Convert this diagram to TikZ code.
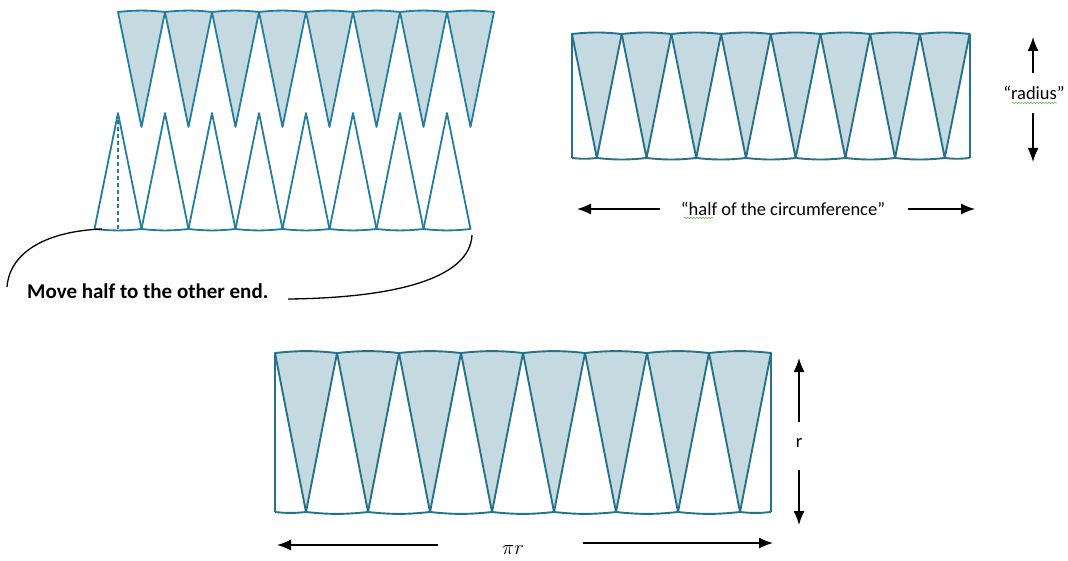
\documentclass[tikz,border=0pt]{standalone}
\usepackage{fontspec}
\setmainfont{Carlito}
\usepackage{tikz}
\usetikzlibrary{arrows.meta,positioning,decorations.pathmorphing}
\definecolor{wedgeline}{RGB}{34,126,156}
\definecolor{stripline}{RGB}{38,114,138}
\definecolor{wedgefill}{RGB}{196,218,224}
\definecolor{spellgreen}{RGB}{110,185,80}

\begin{document}
\begin{tikzpicture}[x=1pt,y=-1pt,>=Latex,
  wedge/.style={draw=wedgeline, line width=1.8pt, line join=round},
  strip/.style={draw=stripline, line width=1.9pt, line join=round},
  dimarrow/.style={->, line width=1.4pt, >={Latex[length=14pt,width=11pt]}},
  curve/.style={line width=1.3pt},
  lbl/.style={font=\fontsize{18.5}{22}\selectfont, inner sep=0pt},
  squiggle/.style={spellgreen, line width=0.6pt, decorate,
    decoration={snake, amplitude=0.8pt, segment length=3pt}}]
  \useasboundingbox (0,0) rectangle (1068,561);

  % cut circle, top row and bottom row
  \foreach \i in {0,...,7} {
    \draw[wedge, fill=wedgefill] (118+47*\i,12) to[bend left=6] ++(47,0) -- (141.5+47*\i,127) -- cycle;
    \draw[wedge] (94.5+47*\i,229) to[bend right=6] ++(47,0) -- (118+47*\i,113) -- cycle;
  }
  \draw[wedge, line width=1.5pt, dash pattern=on 4pt off 3pt] (118,113) -- (118,229);

  % the two rearranged strips
  \foreach \xo/\ww/\yt/\yb in {572/49.7/34/158, 275/62/353/512} {
    \foreach \i in {0,...,7}
      \draw[strip, fill=wedgefill] (\xo+\ww*\i,\yt) to[bend left=6] ++(\ww,0) -- (\xo+\ww*\i+\ww/2,\yb) -- cycle;
    \foreach \i in {0,...,6}
      \draw[strip] (\xo+\ww*\i+\ww/2,\yb) to[bend right=6] ++(\ww,0);
    \draw[strip] (\xo,\yb) to[bend right=6] ++(\ww/2,0);
    \draw[strip] (\xo+7.5*\ww,\yb) to[bend right=6] ++(\ww/2,0);
    \draw[strip] (\xo,\yt) -- (\xo,\yb) (\xo+8*\ww,\yt) -- (\xo+8*\ww,\yb);
  }

  % moving half
  \node[anchor=west, inner sep=0pt, font=\bfseries\fontsize{21}{25}\selectfont] (move) at (27,291) {Move half to the other end.};
  \coordinate (lstart) at (102,229);
  \coordinate (lend) at (7,287);
  \coordinate (rstart) at (472,235);
  \coordinate (rend) at (288,299);
  \draw[curve] (lstart) .. controls (50,231) and (10,250) .. (lend);
  \draw[curve] (rstart) .. controls (470,280) and (390,298) .. (rend);

  % top strip labels
  \node[lbl] (half) at (783,209) {“half of the circumference”};
  \coordinate (hl1) at (660,209);
  \coordinate (hl2) at (577,209);
  \coordinate (hr1) at (908,209);
  \coordinate (hr2) at (975,209);
  \draw[dimarrow] (hl1) -- (hl2);
  \draw[dimarrow] (hr1) -- (hr2);
  \draw[squiggle] (684,218) -- (713,218);

  \node[lbl] (rad) at (1034,93) {“radius”};
  \coordinate (ru1) at (1033,73);
  \coordinate (ru2) at (1033,37);
  \coordinate (rd1) at (1033,113);
  \coordinate (rd2) at (1033,162);
  \draw[dimarrow] (ru1) -- (ru2);
  \draw[dimarrow] (rd1) -- (rd2);
  \draw[squiggle] (1012,103) -- (1057,103);

  % bottom strip labels
  \node[lbl, font=\fontsize{22}{26}\selectfont] (pir) at (513,550) {$\pi r$};
  \coordinate (pl1) at (438,545);
  \coordinate (pl2) at (277,545);
  \coordinate (pr1) at (583,543);
  \coordinate (pr2) at (773,543);
  \draw[dimarrow] (pl1) -- (pl2);
  \draw[dimarrow] (pr1) -- (pr2);

  \node[lbl] (r) at (799,443) {r};
  \coordinate (vu1) at (799,422);
  \coordinate (vu2) at (799,358);
  \coordinate (vd1) at (799,470);
  \coordinate (vd2) at (799,525);
  \draw[dimarrow] (vu1) -- (vu2);
  \draw[dimarrow] (vd1) -- (vd2);
\end{tikzpicture}
\end{document}
